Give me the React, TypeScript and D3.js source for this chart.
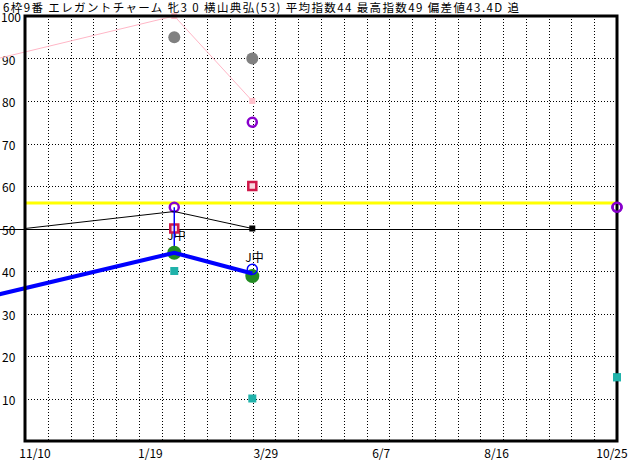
import * as d3 from 'd3';

const title = '6枠9番 エレガントチャーム 牝3 0 横山典弘(53) 平均指数44 最高指数49 偏差値43.4D 追';

const xTickLabels = ['11/10', '1/19', '3/29', '6/7', '8/16', '10/25'];
const yTicks = [10, 20, 30, 40, 50, 60, 70, 80, 90, 100];

// 折れ線
const lineDates = ['2020-09-03', '2021-02-06', '2021-03-24'];
const pinkValues = [85, 100, 80];
const blueValues = [29.5, 44.3, 39.4];
const blackDates = ['2020-11-10', '2021-02-06', '2021-03-24'];
const blackValues = [50, 54, 50];

// マーカー
const grayDates = ['2021-02-06', '2021-03-24'];
const grayValues = [95, 90];
const purpleDates = ['2021-02-06', '2021-03-24', '2021-10-25'];
const purpleValues = [55, 75, 55];
const redDates = ['2021-02-06', '2021-03-24'];
const redValues = [50, 60];
const tealDates = ['2021-02-06', '2021-03-24', '2021-10-25'];
const tealValues = [40, 10, 15];
const greenDates = ['2021-02-06', '2021-03-24'];
const greenValues = [44.3, 38.8];
const ringDates = ['2021-03-24'];
const ringValues = [40.4];
const noteDates = ['2021-02-06', '2021-03-24'];
const noteValues = [48.7, 43.3];
const noteTexts = ['J中', 'J中'];
const rangeDates = ['2021-02-06'];
const rangeFrom = [55];
const rangeTo = [44.3];

const avgValue = 56;
const baseValue = 50;
const gridCount = 26;

const W = 632;
const H = 460;
const left = 25;
const right = 617;
const top = 16;
const bottom = 441;
const font = '"Noto Sans CJK JP", sans-serif';

const parse = d3.timeParse('%Y-%m-%d');

export default function App() {
  const x = d3
    .scaleTime()
    .domain([parse('2020-11-10')!, parse('2021-10-25')!])
    .range([left, right]);
  const y = d3.scaleLinear().domain([0, 100]).range([bottom, top]);
  const gx = d3.scaleLinear().domain([0, gridCount]).range([left, right]);
  const labelX = d3.scalePoint<string>().domain(xTickLabels).range([35, 612]);

  const line = d3
    .line<[string, number]>()
    .x((d) => x(parse(d[0])!))
    .y((d) => y(d[1]));

  const pts = (ds: string[], vs: number[]) => ds.map((d, i) => [d, vs[i]] as [string, number]);

  return (
    <svg width={W} height={H} style={{ position: 'absolute', left: 0, top: 0, background: '#fff' }}>
      <rect width={W} height={H} fill="#fff" />
      {/* グリッド */}
      {d3.range(1, gridCount).map((i) => (
        <line key={'v' + i} x1={Math.round(gx(i)) + 0.5} x2={Math.round(gx(i)) + 0.5} y1={top} y2={bottom} stroke="#000" strokeDasharray="1,2" />
      ))}
      {yTicks
        .filter((t) => t !== 100)
        .map((t) => (
          <line key={'h' + t} x1={left} x2={right} y1={Math.round(y(t)) + 0.5} y2={Math.round(y(t)) + 0.5} stroke="#000" strokeDasharray="1,2" />
        ))}
      {yTicks.map((t) => (
        <text key={'yl' + t} x={t === 100 ? 1 : 2} y={y(t) + 6} fontSize={12} fontFamily={font} fill="#000">
          {t}
        </text>
      ))}
      {xTickLabels.map((l) => (
        <text key={l} x={labelX(l)} y={458} fontSize={12} fontFamily={font} textAnchor="middle">
          {l}
        </text>
      ))}

      {/* 基準線 */}
      <line x1={0} x2={right} y1={Math.round(y(baseValue)) + 0.5} y2={Math.round(y(baseValue)) + 0.5} stroke="#000" />
      <line x1={left} x2={right} y1={y(avgValue)} y2={y(avgValue)} stroke="#ffff00" strokeWidth={3} />

      {/* 折れ線 */}
      <path d={line(pts(lineDates, pinkValues)) ?? ''} fill="none" stroke="#ffb6c6" strokeWidth={1} />
      {pts(lineDates, pinkValues).map((d, i) => (
        <rect key={'pk' + i} x={x(parse(d[0])!) - 3} y={y(d[1]) - 3} width={6} height={6} fill="#ffc0cb" />
      ))}

      {/* 文字 */}
      {noteDates.map((d, i) => (
        <text key={'n' + i} x={x(parse(d)!) - 7} y={y(noteValues[i])} dominantBaseline="central" fontSize={12} fontFamily={font}>
          {noteTexts[i]}
        </text>
      ))}

      {/* マーカー */}
      {pts(tealDates, tealValues).map((d, i) => (
        <rect key={'t' + i} x={x(parse(d[0])!) - 4} y={y(d[1]) - 4} width={8} height={8} fill="#20b2aa" />
      ))}
      {pts(grayDates, grayValues).map((d, i) => (
        <circle key={'g' + i} cx={x(parse(d[0])!)} cy={y(d[1])} r={6} fill="#808080" />
      ))}
      {pts(redDates, redValues).map((d, i) => (
        <rect key={'r' + i} x={x(parse(d[0])!) - 4} y={y(d[1]) - 4} width={8} height={8} fill="#f8d8e0" stroke="#d0184a" strokeWidth={2.5} />
      ))}
      {pts(purpleDates, purpleValues).map((d, i) => (
        <circle key={'p' + i} cx={x(parse(d[0])!)} cy={y(d[1])} r={4.5} fill="none" stroke="#8800cc" strokeWidth={2.5} />
      ))}
      <path d={line(pts(blackDates, blackValues)) ?? ''} fill="none" stroke="#000" strokeWidth={1} />
      {pts(blackDates, blackValues)
        .slice(2)
        .map((d, i) => (
          <rect key={'b' + i} x={x(parse(d[0])!) - 3} y={y(d[1]) - 3} width={6} height={6} fill="#000" />
        ))}
      {rangeDates.map((d, i) => (
        <line key={'rg' + i} x1={x(parse(d)!)} x2={x(parse(d)!)} y1={y(rangeFrom[i])} y2={y(rangeTo[i])} stroke="#0000ff" strokeWidth={1.5} />
      ))}
      {pts(greenDates, greenValues).map((d, i) => (
        <circle key={'gr' + i} cx={x(parse(d[0])!)} cy={y(d[1])} r={7} fill="#228b22" />
      ))}
      {pts(ringDates, ringValues).map((d, i) => (
        <circle key={'ri' + i} cx={x(parse(d[0])!)} cy={y(d[1])} r={5} fill="none" stroke="#0000ff" strokeWidth={1.5} />
      ))}
      <path d={line(pts(lineDates, blueValues)) ?? ''} fill="none" stroke="#0000ff" strokeWidth={4} />

      {/* 枠 */}
      <rect x={left} y={top} width={right - left} height={bottom - top} fill="none" stroke="#000" strokeWidth={3} />
      {/* 右端のマーカーは枠の上 */}
      {pts(purpleDates, purpleValues)
        .slice(2)
        .map((d, i) => (
          <circle key={'pe' + i} cx={x(parse(d[0])!)} cy={y(d[1])} r={4.5} fill="none" stroke="#8800cc" strokeWidth={2.5} />
        ))}
      {pts(tealDates, tealValues)
        .slice(2)
        .map((d, i) => (
          <rect key={'te' + i} x={x(parse(d[0])!) - 4} y={y(d[1]) - 4} width={8} height={8} fill="#20b2aa" />
        ))}

      <text x={3} y={12} fontSize={11.5} fontFamily={font} textLength={516} lengthAdjust="spacing">
        {title}
      </text>
    </svg>
  );
}
